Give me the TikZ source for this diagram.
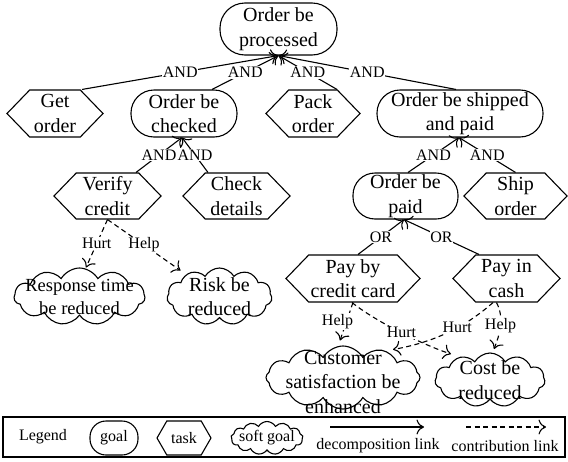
\documentclass[tikz,border=0pt]{standalone}
\usepackage{fontspec}
\setmainfont{Liberation Serif}
\usetikzlibrary{shapes.misc,shapes.symbols,arrows.meta,calc}

\begin{document}
\begin{tikzpicture}[x=1pt,y=-1pt,
  every node/.style={inner sep=0pt, align=center},
  nodefont/.style={font=\fontsize{20}{24.5}\selectfont},
  smallfont/.style={font=\fontsize{16}{18}\selectfont},
  goal/.style={draw, line width=1.1pt, rectangle, rounded corners=#1, nodefont},
  goal/.default=23pt,
  task/.style={draw, line width=1.1pt, signal, signal to=east and west,
    signal pointer angle=92, nodefont},
  softgoal/.style={draw, line width=1.1pt, cloud, cloud puffs=11,
    cloud puff arc=120, cloud ignores aspect},
  decomp/.style={line width=1.1pt, -{To[length=7.5pt,width=15pt]}},
  contrib/.style={decomp, dash pattern=on 5pt off 3.5pt},
  lbl/.style={smallfont, fill=white, inner sep=0.8pt},
]
\useasboundingbox (0,0) rectangle (568,461);

% goals and tasks
\node[goal=25pt, minimum width=117pt, minimum height=52pt] (top) at (278.5,29) {Order be\\processed};

\node[task, minimum width=96pt, minimum height=47pt] (getorder) at (55,113.5) {Get\\order};
\node[goal, minimum width=106pt, minimum height=47pt] (checked) at (184,113.5) {Order be\\checked};
\node[task, minimum width=94pt, minimum height=47pt] (pack) at (313,113.5) {Pack\\order};
\node[goal, minimum width=166pt, minimum height=47pt] (shipped) at (460,113.5) {Order be shipped\\and paid};

\node[task, minimum width=107pt, minimum height=46pt] (verify) at (107.5,196) {Verify\\credit};
\node[task, minimum width=107pt, minimum height=46pt] (details) at (236.5,196) {Check\\details};
\node[goal=22pt, minimum width=105pt, minimum height=46pt] (paid) at (405.5,196) {Order be\\paid};
\node[task, minimum width=103pt, minimum height=46pt] (ship) at (515.5,196) {Ship\\order};

\node[task, minimum width=134pt, minimum height=47pt] (credit) at (353,278.5) {Pay by\\credit card};
\node[task, minimum width=107pt, minimum height=47pt] (cash) at (506.5,278.5) {Pay in\\cash};

% soft goals
\node[softgoal, minimum width=131pt, minimum height=57pt] (resp) at (79.5,296.5) {};
\node[font=\fontsize{18.5}{23}\selectfont] (resptxt) at (resp) {Response time\\be reduced};
\node[softgoal, minimum width=105pt, minimum height=57pt] (risk) at (219.5,296.5) {};
\node[nodefont] (risktxt) at (risk) {Risk be\\reduced};
\node[softgoal, cloud puffs=12, minimum width=154pt, minimum height=63pt] (cust) at (343,377.5) {};
\node[nodefont] (custtxt) at (343,382) {Customer\\satisfaction be\\enhanced};
\node[softgoal, minimum width=110pt, minimum height=54pt] (cost) at (490,380) {};
\node[nodefont] (costtxt) at (cost) {Cost be\\reduced};

% AND / OR decompositions
\draw[decomp] ([xshift=27pt]getorder.north) -- node[lbl]{AND} (top.south);
\draw[decomp] ([xshift=28pt]checked.north) -- node[lbl]{AND} (top.south);
\draw[decomp] ([xshift=24pt]pack.north) -- node[lbl]{AND} (top.south);
\draw[decomp] ([xshift=-4pt]shipped.north) -- node[lbl]{AND} (top.south);

\draw[decomp] ([xshift=28.5pt]verify.north) -- node[lbl]{AND} ([xshift=-2pt]checked.south);
\draw[decomp] ([xshift=-28.5pt]details.north) -- node[lbl]{AND} ([xshift=-2pt]checked.south);
\draw[decomp] ([xshift=2.5pt]paid.north) -- node[lbl]{AND} ([xshift=-1pt]shipped.south);
\draw[decomp] (ship.north) -- node[lbl]{AND} ([xshift=-1pt]shipped.south);

\draw[decomp] ([xshift=5pt]credit.north) -- node[lbl]{OR} ([xshift=-1.5pt]paid.south);
\draw[decomp] ([xshift=-27.5pt]cash.north) -- node[lbl]{OR} ([xshift=-1.5pt]paid.south);

% contributions
\draw[contrib] (verify.south) -- node[lbl]{Hurt} ([xshift=6.5pt,yshift=29pt]resp.center);
\draw[contrib] (verify.south) -- node[lbl]{Help} ([xshift=-39pt,yshift=26pt]risk.center);
\draw[contrib] (credit.south) -- node[lbl, xshift=-9pt]{Help} ([xshift=-3pt,yshift=37pt]cust.center);
\draw[contrib] ([xshift=-1pt]credit.south) .. controls +(25,20) and +(-25,-8) ..
  node[lbl, pos=0.5]{Hurt} ([xshift=-39pt,yshift=26pt]cost.center);
\draw[contrib] ([xshift=-13.5pt]cash.south) .. controls +(-25,22) and +(45,-8) ..
  node[lbl, pos=0.43]{Hurt} ([xshift=50pt,yshift=28pt]cust.center);
\draw[contrib] ([xshift=-10pt]cash.south) .. controls +(8,15) and +(6,-15) ..
  node[lbl, pos=0.5]{Help} ([xshift=4pt,yshift=31pt]cost.center);

% legend
\node[draw, line width=1.1pt, minimum width=562pt, minimum height=40pt] (legendbox) at (284,437) {};
\node[smallfont] (legendtxt) at (43,437) {Legend};
\node[goal=16pt, smallfont, minimum width=48pt, minimum height=34pt] (lgoal) at (114,438) {goal};
\node[task, smallfont, signal pointer angle=120, minimum width=54pt, minimum height=34pt] (ltask) at (184,438) {task};
\node[softgoal, cloud puffs=13, minimum width=72pt, minimum height=33pt] (lsoft) at (267,438) {};
\node[smallfont] (lsofttxt) at (lsoft) {soft goal};
\coordinate (d1) at (330,427);
\coordinate (d2) at (424,427);
\draw[decomp] (d1) -- (d2);
\node[smallfont] (dtxt) at (378,446) {decomposition link};
\coordinate (c1) at (466,427);
\coordinate (c2) at (546,427);
\draw[contrib] (c1) -- (c2);
\node[smallfont] (ctxt) at (505,446) {contribution link};
\end{tikzpicture}
\end{document}
